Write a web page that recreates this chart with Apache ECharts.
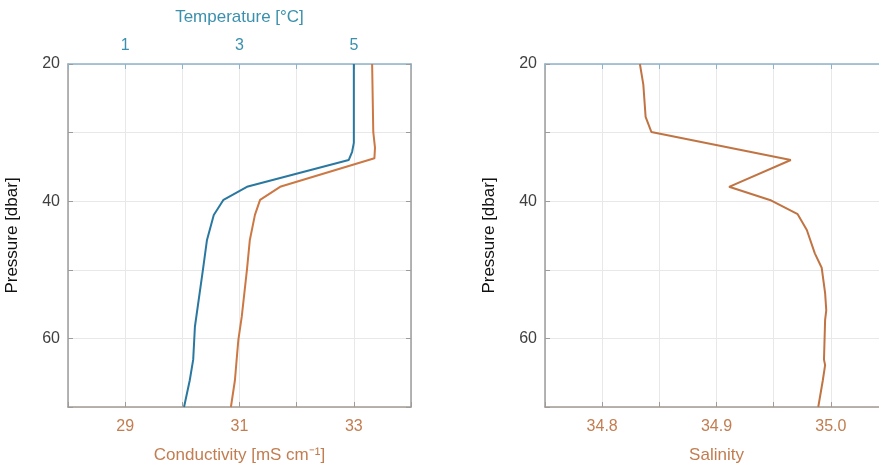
<!DOCTYPE html>
<html>
<head>
<meta charset="utf-8">
<script src="https://cdn.jsdelivr.net/npm/echarts@6/dist/echarts.min.js"></script>
<style>
    html, body { margin: 0; padding: 0; background: #fff; }
    #chart { width: 879px; height: 469px; }
</style>
</head>
<body>
<div id="chart"></div>
<script>
// profile data
var pressureT = [20, 31.5, 32.8, 34.0, 37.9, 39.8, 42.0, 45.7, 50.0, 58.3, 63.1, 66.1, 70];
var temperature = [5.00, 5.00, 4.97, 4.91, 3.13, 2.72, 2.55, 2.43, 2.36, 2.22, 2.19, 2.13, 2.03];

var pressureC = [20, 29.9, 32.2, 33.75, 37.9, 39.8, 42.0, 45.7, 50.0, 56.8, 60.2, 63.1, 66.1, 70];
var conductivity = [33.32, 33.34, 33.37, 33.36, 31.71, 31.36, 31.27, 31.18, 31.13, 31.04, 30.98, 30.95, 30.92, 30.85];

var pressureS = [20, 23, 27.7, 29.9, 34.0, 37.9, 39.9, 41.9, 44.2, 47.6, 49.7, 53.4, 55.9, 57.3, 63.1, 63.9, 66.1, 70];
var salinity = [34.833, 34.836, 34.838, 34.843, 34.965, 34.911, 34.948, 34.971, 34.979, 34.986, 34.992, 34.995, 34.996, 34.995, 34.994, 34.995, 34.993, 34.989];

var pressureLabels = [20, 40, 60];
var condLabels = [29, 31, 33];
var tempLabels = [1, 3, 5];
var salLabels = [34.8, 34.9, 35.0];

var FONT = '"Liberation Sans", Arial, sans-serif';
var BLUE_TXT = '#3a90ad';
var BLUE_LINE = '#2a78a0';
var ORANGE_TXT = '#c27d50';
var ORANGE_LINE = '#cc7844';
var GREY_TXT = '#404040';
var AXIS_GREY = '#9c9c9c';
var GRID_GREY = '#e8e8e8';

function pairs(xs, ys) {
    return ys.map(function(p, i) { return [xs[i], p]; });
}

function has(list, v) {
    for (var i = 0; i < list.length; i++) {
        if (Math.abs(list[i] - v) < 1e-6) return true;
    }
    return false;
}

function yAxisBase(grid, pos, showLabel) {
    return {
        type: 'value', gridIndex: grid, position: pos, inverse: true,
        min: 20, max: 70, interval: 10,
        name: showLabel ? 'Pressure [dbar]' : '',
        nameLocation: 'middle', nameGap: 47,
        nameTextStyle: { color: '#111', fontSize: 17, fontFamily: FONT },
        axisLine: { show: true, lineStyle: { color: AXIS_GREY, width: 1.5 } },
        axisTick: { show: true, inside: true, length: 5, lineStyle: { color: AXIS_GREY } },
        axisLabel: {
            show: showLabel, color: GREY_TXT, fontSize: 16, fontFamily: FONT, margin: 8,
            formatter: function(v) { return has(pressureLabels, v) ? String(v) : ''; }
        },
        splitLine: { show: showLabel, lineStyle: { color: GRID_GREY } }
    };
}

var chart = echarts.init(document.getElementById('chart'));

var option = {
    backgroundColor: '#fff',
    animation: false,
    grid: [
        { left: 68, top: 64, width: 343, height: 343, outerBoundsMode: 'none' },
        { left: 545, top: 64, width: 343, height: 343, outerBoundsMode: 'none' }
    ],
    xAxis: [
        {   // conductivity, bottom of left panel
            type: 'value', gridIndex: 0, position: 'bottom',
            min: 28, max: 34, interval: 1,
            name: 'Conductivity [mS cm⁻¹]', nameLocation: 'middle', nameGap: 40,
            nameTextStyle: { color: ORANGE_TXT, fontSize: 17, fontFamily: FONT },
            axisLine: { show: true, lineStyle: { color: '#a39a94', width: 1.5 } },
            axisTick: { show: true, inside: true, length: 5, lineStyle: { color: '#a39a94' } },
            axisLabel: {
                color: ORANGE_TXT, fontSize: 16, fontFamily: FONT, margin: 12,
                formatter: function(v) { return has(condLabels, v) ? String(v) : ''; }
            },
            splitLine: { show: true, lineStyle: { color: GRID_GREY } }
        },
        {   // temperature, top of left panel
            type: 'value', gridIndex: 0, position: 'top',
            min: 0, max: 6, interval: 1,
            name: 'Temperature [°C]', nameLocation: 'middle', nameGap: 38,
            nameTextStyle: { color: BLUE_TXT, fontSize: 17, fontFamily: FONT },
            axisLine: { show: true, lineStyle: { color: '#8fb3c8', width: 1.5 } },
            axisTick: { show: true, inside: true, length: 5, lineStyle: { color: '#8fb3c8' } },
            axisLabel: {
                color: BLUE_TXT, fontSize: 16, fontFamily: FONT, margin: 10,
                formatter: function(v) { return has(tempLabels, v) ? String(v) : ''; }
            },
            splitLine: { show: false }
        },
        {   // salinity, bottom of right panel
            type: 'value', gridIndex: 1, position: 'bottom',
            min: 34.75, max: 35.05, interval: 0.05,
            name: 'Salinity', nameLocation: 'middle', nameGap: 40,
            nameTextStyle: { color: ORANGE_TXT, fontSize: 17, fontFamily: FONT },
            axisLine: { show: true, lineStyle: { color: '#a39a94', width: 1.5 } },
            axisTick: { show: true, inside: true, length: 5, lineStyle: { color: '#a39a94' } },
            axisLabel: {
                color: ORANGE_TXT, fontSize: 16, fontFamily: FONT, margin: 12,
                formatter: function(v) { return has(salLabels, v) ? v.toFixed(1) : ''; }
            },
            splitLine: { show: true, lineStyle: { color: GRID_GREY } }
        },
        {   // plain top edge of right panel
            type: 'value', gridIndex: 1, position: 'top',
            min: 34.75, max: 35.05, interval: 0.05,
            axisLine: { show: true, lineStyle: { color: '#8fb3c8', width: 1.5 } },
            axisTick: { show: true, inside: true, length: 5, lineStyle: { color: '#8fb3c8' } },
            axisLabel: { show: false },
            splitLine: { show: false }
        }
    ],
    yAxis: [
        yAxisBase(0, 'left', true),
        yAxisBase(0, 'right', false),
        yAxisBase(1, 'left', true),
        yAxisBase(1, 'right', false)
    ],
    series: [
        {
            name: 'Temperature', type: 'line', xAxisIndex: 1, yAxisIndex: 0,
            data: pairs(temperature, pressureT), showSymbol: false,
            lineStyle: { color: BLUE_LINE, width: 2 }, z: 3
        },
        {
            name: 'Conductivity', type: 'line', xAxisIndex: 0, yAxisIndex: 0,
            data: pairs(conductivity, pressureC), showSymbol: false,
            lineStyle: { color: ORANGE_LINE, width: 2 }, z: 3
        },
        {
            name: 'Salinity', type: 'line', xAxisIndex: 2, yAxisIndex: 2,
            data: pairs(salinity, pressureS), showSymbol: false,
            lineStyle: { color: '#c07444', width: 2 }, z: 3
        }
    ]
};

chart.setOption(option);
</script>
</body>
</html>
